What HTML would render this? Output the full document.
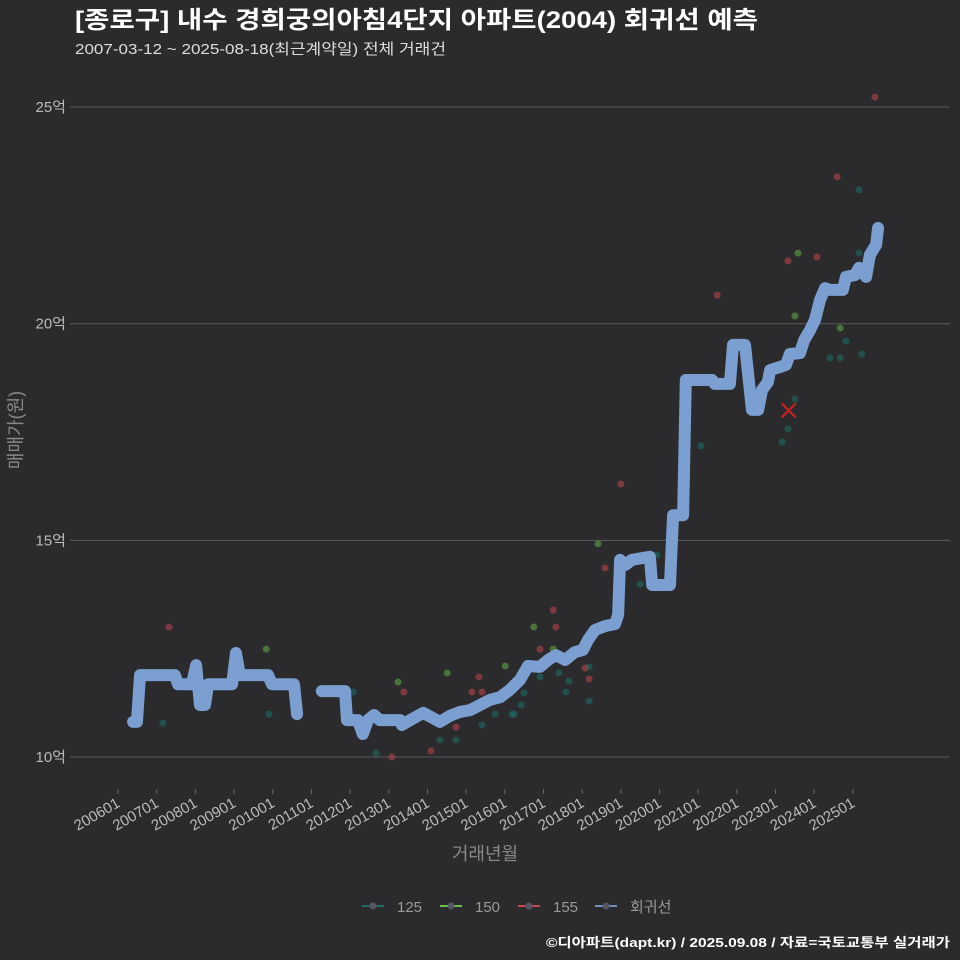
<!DOCTYPE html>
<html><head><meta charset="utf-8"><style>
body{margin:0;background:#2b2b2d;}
svg{display:block;font-family:"Liberation Sans","Noto Sans CJK KR",sans-serif;}
</style></head><body>
<svg id="chart" width="960" height="960">
<rect width="960" height="960" fill="#2b2b2d"/>
<text x="75" y="28" fill="#fff" font-size="24" font-weight="bold" textLength="683" lengthAdjust="spacingAndGlyphs">[종로구] 내수 경희궁의아침4단지 아파트(2004) 회귀선 예측</text>
<text x="75" y="54" fill="#ddd" font-size="15" textLength="371" lengthAdjust="spacingAndGlyphs">2007-03-12 ~ 2025-08-18(최근계약일) 전체 거래건</text>
<g id="grid"></g><g id="xaxis"></g><g id="pts"></g><g id="line"></g>
<text transform="translate(22,430) rotate(-90)" text-anchor="middle" fill="#888" font-size="18">매매가(원)</text>
<text x="485" y="860" text-anchor="middle" fill="#888" font-size="18">거래년월</text>
<g id="legend" font-size="15" fill="#999"></g>
<text x="950" y="947" text-anchor="end" fill="#fff" font-size="13" font-weight="bold" textLength="404" lengthAdjust="spacingAndGlyphs">©디아파트(dapt.kr) / 2025.09.08 / 자료=국토교통부 실거래가</text>
</svg>
<script>
const yTicks=[10,15,20,25];
const xTickLabels=["200601","200701","200801","200901","201001","201101","201201","201301","201401","201501","201601","201701","201801","201901","202001","202101","202201","202301","202401","202501"];
const lineT1=[2006.39,2006.49,2006.57,2007.47,2007.55,2007.91,2008.02,2008.12,2008.25,2008.33,2008.95,2009.05,2009.15,2009.88,2009.98,2010.55,2010.63];
const lineV1=[10.81,10.81,11.89,11.89,11.68,11.68,12.12,11.20,11.20,11.68,11.68,12.40,11.89,11.89,11.68,11.68,10.99];
const lineT2=[2011.27,2011.87,2011.92,2012.20,2012.33,2012.46,2012.62,2012.77,2013.29,2013.34,2013.55,2013.89,2014.32,2014.58,2014.84,2015.10,2015.36,2015.62,2015.88,2016.13,2016.39,2016.60,2016.91,2017.12,2017.32,2017.56,2017.81,2018.02,2018.15,2018.33,2018.59,2018.85,2018.93,2018.98,2019.11,2019.29,2019.75,2019.81,2020.27,2020.35,2020.61,2020.68,2021.36,2021.43,2021.82,2021.90,2022.21,2022.39,2022.55,2022.65,2022.80,2022.86,2023.11,2023.27,2023.37,2023.63,2023.74,2023.89,2024.02,2024.15,2024.28,2024.41,2024.74,2024.82,2025.05,2025.16,2025.34,2025.44,2025.60,2025.65];
const lineV2=[11.52,11.52,10.85,10.85,10.53,10.85,10.97,10.85,10.85,10.74,10.85,11.02,10.81,10.95,11.04,11.08,11.20,11.32,11.38,11.55,11.78,12.10,12.08,12.24,12.35,12.24,12.42,12.47,12.70,12.93,13.02,13.07,13.28,14.55,14.43,14.55,14.62,13.97,13.97,15.58,15.58,18.70,18.70,18.61,18.61,19.51,19.51,18.01,18.01,18.47,18.65,18.93,19.00,19.05,19.30,19.32,19.62,19.85,20.09,20.55,20.82,20.78,20.78,21.08,21.12,21.29,21.08,21.59,21.82,22.21];
const t125=[2007.16,2009.90,2012.08,2012.67,2014.32,2014.74,2015.41,2015.75,2016.19,2016.24,2016.42,2016.50,2016.91,2017.40,2017.66,2017.58,2018.18,2018.18,2019.50,2019.93,2021.07,2023.17,2023.32,2023.50,2024.41,2024.67,2024.82,2025.23,2025.16,2025.16];
const v125=[10.78,10.99,11.50,10.09,10.39,10.39,10.74,10.99,10.99,10.99,11.20,11.48,11.85,11.94,11.75,11.50,11.29,12.08,13.99,14.66,17.18,17.27,17.57,18.26,19.21,19.21,19.60,19.30,21.63,23.09];
const t150=[2009.83,2013.24,2014.51,2016.01,2016.75,2017.25,2018.41,2023.58,2023.50,2024.67];
const v150=[12.49,11.73,11.94,12.10,13.00,12.49,14.92,21.63,20.18,19.90];
const t155=[2007.32,2013.39,2013.08,2014.09,2014.74,2015.33,2015.15,2015.41,2016.91,2017.25,2017.32,2018.07,2018.18,2018.59,2019.00,2021.49,2023.32,2024.07,2024.59,2025.57];
const v155=[13.00,11.50,10.00,10.14,10.69,11.85,11.50,11.50,12.49,13.39,13.00,12.05,11.80,14.36,16.30,20.66,21.45,21.54,23.39,25.23];
const markT=[2023.34], markV=[18.0];
const NS="http://www.w3.org/2000/svg";
const X=t=>118+(t-2006)*38.68, Y=v=>757-(v-10)*43.33;
function mk(tag,attrs,parent){const e=document.createElementNS(NS,tag);for(const k in attrs)e.setAttribute(k,attrs[k]);parent.appendChild(e);return e;}
const grid=document.getElementById('grid');
yTicks.forEach(v=>{
 const l=mk('line',{x1:70,x2:950,y1:Y(v),y2:Y(v),stroke:'#5a5a5a','stroke-width':1},grid);
 
 
 const t=mk('text',{x:66,y:Y(v)+5,'text-anchor':'end',fill:'#bbb','font-size':15},grid);
 t.textContent=v+'억';
 
 
});
const xa=document.getElementById('xaxis');
xTickLabels.forEach((s,i)=>{
 const x=X(2006+i);
 const tk=mk('line',{x1:x,x2:x,y1:789,y2:794,stroke:'#666'},xa);
 
 
 const t=mk('text',{x:0,y:0,'text-anchor':'end',fill:'#bbb','font-size':15,transform:`translate(${x+3},${806}) rotate(-30)`},xa);
 t.textContent=s;
 
 
});
const pts=document.getElementById('pts');
function scatter(ts,vs,col,name){ts.forEach((t,i)=>{
 const c=mk('circle',{cx:X(t),cy:Y(vs[i]),r:3.5,fill:col,'fill-opacity':0.6},pts);
 
 
});}
scatter(t125,v125,'#1d6b62','point-125');
scatter(t150,v150,'#5ea345','point-150');
scatter(t155,v155,'#b5424a','point-155');
const lg=document.getElementById('line');
[[lineT1,lineV1],[lineT2,lineV2]].forEach(([ts,vs])=>{
 const p=mk('polyline',{points:ts.map((t,i)=>X(t)+','+Y(vs[i])).join(' '),fill:'none',stroke:'#7b9fd0','stroke-width':12,'stroke-linejoin':'round','stroke-linecap':'round'},lg);
 
 
});
markT.forEach((t,i)=>{const x=X(t),y=Y(markV[i]);
 const m=mk('path',{d:`M${x-7},${y-7}L${x+7},${y+7}M${x-7},${y+7}L${x+7},${y-7}`,stroke:'#d02020','stroke-width':2},lg);
 
 
});
const leg=document.getElementById('legend');
[['125','#1d6b62',362],['150','#6abf4b',440],['155','#c8464f',518],['회귀선','#6f8fbf',595]].forEach(([lab,col,x])=>{
 const g=mk('g',{},leg);
 
 
 mk('line',{x1:x,x2:x+22,y1:906,y2:906,stroke:col,'stroke-width':2},g);
 mk('circle',{cx:x+11,cy:906,r:3.5,fill:'#556'},g);
 const t=mk('text',{x:x+35,y:912,fill:'#999'},g);t.textContent=lab;
});
</script>
</body></html>
